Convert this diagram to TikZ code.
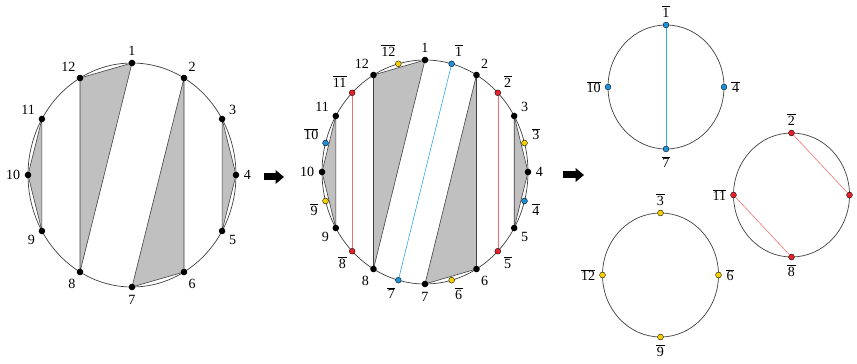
\documentclass[tikz,border=0pt]{standalone}
\usepackage{fontspec}
\setmainfont{Liberation Serif}
\usetikzlibrary{arrows.meta}
\definecolor{shade}{HTML}{C0C0C0}
\definecolor{inkgray}{HTML}{404040}
\definecolor{cblue}{HTML}{1E90D8}
\definecolor{cred}{HTML}{E8202A}
\definecolor{cyel}{HTML}{F4D000}
\definecolor{lnblue}{HTML}{30A8E8}
\definecolor{lnred}{HTML}{F07070}
\newcommand{\ob}[1]{$\overline{\mbox{#1}}$}
\newcommand{\bb}[1]{$\overline{\mbox{\kern0.5pt#1\kern0.5pt}}$}
\newcommand{\barlab}[1]{\ifnum#1>9 \ob{#1}\else\bb{#1}\fi}

\begin{document}
\begin{tikzpicture}[x=0.3mm, y=0.3mm,
  rim/.style={draw=inkgray, line width=0.6pt},
  tri/.style={fill=shade, draw=inkgray, line width=0.5pt, line join=round},
  pt/.style={circle, fill=black, inner sep=0pt, minimum size=5.6pt},
  cpt/.style={circle, draw=black, line width=0.3pt, fill=#1, inner sep=0pt, minimum size=5pt},
  lab/.style={font=\fontsize{12}{14}\selectfont, inner sep=1pt, label distance=2.5pt},
  chord/.style={line width=0.5pt},
  bigarrow/.style={-{Triangle[length=2.5mm, width=4mm]}, line width=2.1mm}]
\useasboundingbox (0,0) rectangle (857,363);

% left circle
\foreach \k in {1,...,12} {
  \pgfmathsetmacro\a{120-30*\k}
  \coordinate (l\k) at ({132+104*cos(\a)},{188+112*sin(\a)});
}
\foreach \p/\q/\r in {12/1/8, 2/7/6, 11/10/9, 3/4/5}
  \filldraw[tri] (l\p) -- (l\q) -- (l\r) -- cycle;
\draw[rim] (132,188) ellipse [x radius=104, y radius=112];
\foreach \k in {1,...,12} {
  \pgfmathsetmacro\a{120-30*\k}
  \node[pt, label={[lab]\a:\k}] (L\k) at (l\k) {};
}

% middle circle
\foreach \k in {1,...,12} {
  \pgfmathsetmacro\a{120-30*\k}
  \coordinate (m\k) at ({425+103*cos(\a)},{191+112*sin(\a)});
}
\foreach \p/\q/\r in {12/1/8, 2/7/6, 11/10/9, 3/4/5}
  \filldraw[tri] (m\p) -- (m\q) -- (m\r) -- cycle;
\draw[rim] (425,191) ellipse [x radius=103, y radius=112];
\foreach \k in {1,...,12} {
  \pgfmathsetmacro\a{120-30*\k}
  \node[pt, label={[lab]\a:\k}] (M\k) at (m\k) {};
}
\foreach \k/\c in {1/cblue, 2/cred, 3/cyel, 4/cblue, 5/cred, 6/cyel,
                   7/cblue, 8/cred, 9/cyel, 10/cblue, 11/cred, 12/cyel} {
  \pgfmathsetmacro\a{105-30*\k}
  \node[cpt=\c, label={[lab]\a:\barlab{\k}}] (Mb\k) at ({425+103*cos(\a)},{191+112*sin(\a)}) {};
}
\draw[chord, lnblue] (Mb1) -- (Mb7);
\draw[chord, lnred] (Mb2) -- (Mb5);
\draw[chord, lnred] (Mb11) -- (Mb8);

% right circles
\foreach \c/\cx/\cy/\s in {cblue/666/276/1, cred/791.5/168/2, cyel/660.5/88/3} {
  \draw[rim] (\cx,\cy) ellipse [x radius=58, y radius=62];
  \foreach \j in {0,...,3} {
    \pgfmathtruncatemacro\k{\s+3*\j}
    \pgfmathsetmacro\a{90-90*\j}
    \node[cpt=\c, label={[lab]\a:\barlab{\k}}] (S\k) at ({\cx+58*cos(\a)},{\cy+62*sin(\a)}) {};
  }
}
\draw[chord, lnblue] (S1) -- (S7);
\draw[chord, lnred] (S2) -- (S5);
\draw[chord, lnred] (S11) -- (S8);

% arrows
\coordinate (arrA) at (264,186);
\coordinate (arrB) at (284,186);
\coordinate (arrC) at (563,188);
\coordinate (arrD) at (584,188);
\draw[bigarrow] (arrA) -- (arrB);
\draw[bigarrow] (arrC) -- (arrD);
\end{tikzpicture}
\end{document}
